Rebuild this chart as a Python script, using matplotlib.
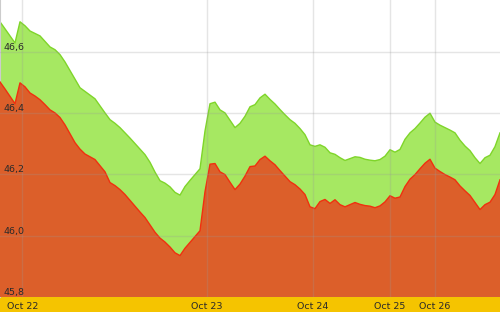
import matplotlib
matplotlib.use("Agg")
import matplotlib.pyplot as plt
import numpy as np

# samples across the period (one every step)
bid = [
    46.501, 46.478, 46.454, 46.430, 46.498, 46.485, 46.465, 46.455, 46.443, 46.427,
    46.410, 46.400, 46.385, 46.361, 46.332, 46.303, 46.282, 46.266, 46.257, 46.248,
    46.228, 46.208, 46.173, 46.163, 46.150, 46.134, 46.115, 46.096, 46.077, 46.059,
    46.035, 46.011, 45.992, 45.979, 45.963, 45.944, 45.935, 45.959, 45.978, 45.997,
    46.016, 46.143, 46.233, 46.235, 46.208, 46.199, 46.174, 46.150, 46.168, 46.194,
    46.225, 46.227, 46.248, 46.259, 46.244, 46.231, 46.212, 46.194, 46.176, 46.166,
    46.152, 46.134, 46.094, 46.088, 46.111, 46.118, 46.105, 46.117, 46.101, 46.094,
    46.101, 46.108, 46.102, 46.098, 46.096, 46.091, 46.097, 46.110, 46.130, 46.122,
    46.126, 46.160, 46.184, 46.199, 46.218, 46.236, 46.249, 46.220, 46.209, 46.199,
    46.191, 46.182, 46.162, 46.146, 46.131, 46.108, 46.085, 46.101, 46.109, 46.134,
    46.182,
]
ask = [
    46.697, 46.674, 46.651, 46.628, 46.697, 46.684, 46.667, 46.659, 46.651, 46.633,
    46.615, 46.606, 46.590, 46.566, 46.538, 46.510, 46.482, 46.470, 46.458, 46.446,
    46.423, 46.400, 46.378, 46.366, 46.352, 46.335, 46.318, 46.300, 46.282, 46.264,
    46.239, 46.207, 46.179, 46.171, 46.159, 46.141, 46.132, 46.160, 46.180, 46.199,
    46.218, 46.341, 46.430, 46.435, 46.410, 46.400, 46.376, 46.352, 46.366, 46.389,
    46.420, 46.427, 46.449, 46.461, 46.444, 46.429, 46.411, 46.394, 46.378, 46.366,
    46.349, 46.329, 46.296, 46.291, 46.296, 46.288, 46.270, 46.265, 46.254, 46.245,
    46.251, 46.257, 46.255, 46.249, 46.246, 46.244, 46.248, 46.259, 46.280, 46.272,
    46.281, 46.314, 46.335, 46.349, 46.367, 46.386, 46.399, 46.370, 46.360, 46.352,
    46.344, 46.335, 46.311, 46.292, 46.277, 46.254, 46.235, 46.254, 46.262, 46.290,
    46.335,
]
day_labels = ["Oct 22", "Oct 23", "Oct 24", "Oct 25", "Oct 26"]
day_start = [4.46, 41.3, 62.5, 78.0, 86.9]
y_ticks = [45.8, 46.0, 46.2, 46.4, 46.6]

x = np.arange(len(bid))
fig = plt.figure(figsize=(5.0, 3.12), dpi=100, facecolor="#f5c400")
ax = fig.add_axes([0, 15 / 312, 1, 297 / 312])
ax.set_facecolor("white")

ax.fill_between(x, 0, ask, color="#a6e862", lw=0, zorder=1)
ax.plot(x, ask, color="#7fd52a", lw=1, zorder=2)
ax.fill_between(x, 0, bid, color="#dc5f2a", lw=0, zorder=3)
ax.plot(x, bid, color="#f0300f", lw=1, zorder=4)

ax.set_xlim(0, len(bid) - 1)
ax.set_ylim(45.8, 46.768)

for v in y_ticks:
    ax.axhline(v, color="#999999", lw=1, alpha=0.25, zorder=5)
    ax.text(0.006, v, f"{v:.1f}".replace(".", ","), transform=ax.get_yaxis_transform(),
            ha="left", va="bottom", fontsize=6.8, color="#2a2a2a", zorder=6)
for d, lab in zip(day_start, day_labels):
    ax.axvline(d, color="#999999", lw=1, alpha=0.25, zorder=5)
    ax.text(d, -0.033, lab, transform=ax.get_xaxis_transform(), ha="center",
            va="center", fontsize=6.8, color="#2a2a2a", clip_on=False)

ax.set_xticks([])
ax.set_yticks([])
for side in ["top", "right", "bottom"]:
    ax.spines[side].set_visible(False)
ax.spines["left"].set_color("#cccccc")

fig.savefig("out.png", dpi=100, facecolor=fig.get_facecolor())
